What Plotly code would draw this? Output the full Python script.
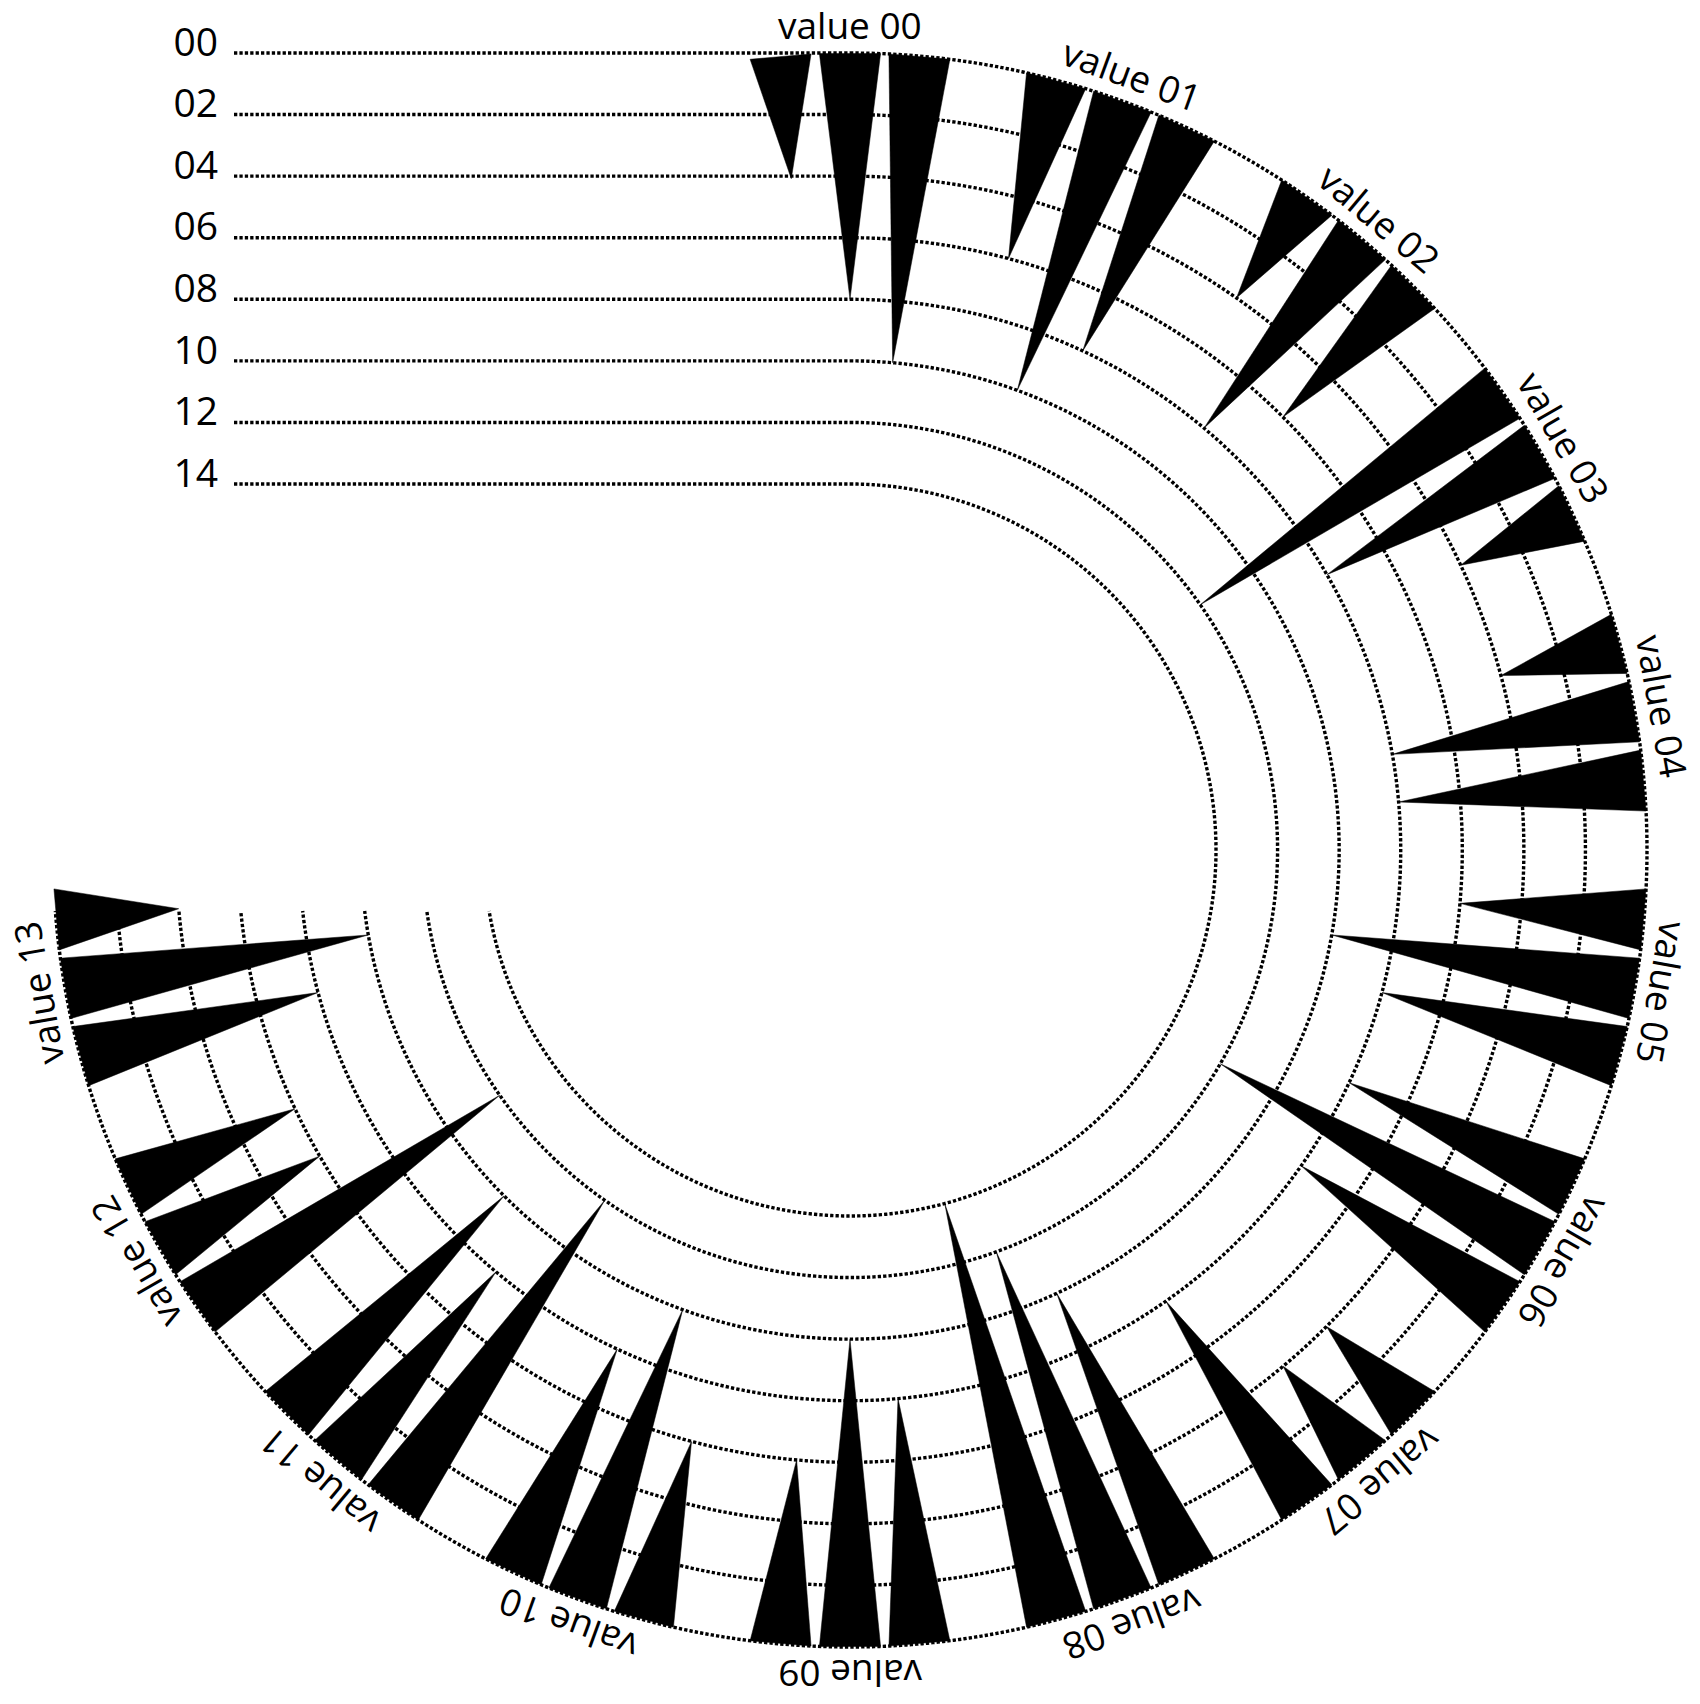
import numpy as np
import plotly.graph_objects as go

# ---------------- data ----------------
categories = ["value 00", "value 01", "value 02", "value 03", "value 04",
              "value 05", "value 06", "value 07", "value 08", "value 09",
              "value 10", "value 11", "value 12", "value 13"]
first_spike = [4, 6, 4, 12, 4, 6, 8, 4, 10, 8, 6, 12, 12, 8]
second_spike = [8, 10, 8, 8, 8, 10, 12, 4, 12, 10, 10, 8, 6, 10]
third_spike = [10, 8, 6, 4, 8, 8, 8, 8, 14, 6, 8, 10, 6, 4]
radial_ticks = [0, 2, 4, 6, 8, 10, 12, 14]
radial_ticktext = ["00", "02", "04", "06", "08", "10", "12", "14"]

# ---------------- layout constants ----------------
W, H = 1700, 1704
CX, CY = 850, 850          # circle centre (px from top-left)
R_OUT, R_IN = 797, 366     # radius of value 0 / value 14 (px)
R_MAX = 14
RPAD = 0.2                 # radial padding so edge guides are not clipped
GROUP_STEP = 20            # degrees between categories
OFFSETS = [-5, 0, 5]       # spike offsets inside a group
SPIKE_W = 4.4              # spike base width (deg)
ARC_CUT = 61               # arcs stop this many px below centre on the left
LABEL_R = 825              # radius of category labels (px)
LINE_X0 = 234              # start of the horizontal guide lines (px)
FONT = "Open Sans"
DOT = dict(color="black", width=3.4, dash="3.3px,2.1px")

unit = (R_OUT - R_IN) / R_MAX
R_POLAR = R_OUT + RPAD * unit
R_HOLE = R_IN - RPAD * unit

fig = go.Figure()

# dotted circular guides (partial arcs)
for v in radial_ticks:
    rpx = R_OUT - unit * v
    t_end = 270 - np.degrees(np.arcsin(ARC_CUT / rpx))
    th = np.linspace(0, t_end, 700)
    fig.add_trace(go.Scatterpolar(
        r=[v] * len(th), theta=th, mode="lines", line=DOT, cliponaxis=False,
        hoverinfo="skip", showlegend=False, subplot="polar"))

# horizontal guide lines on a cartesian overlay (y = radial value)
hx, hy = [], []
for v in radial_ticks:
    hx += [0, 1, None]
    hy += [v, v, None]
fig.add_trace(go.Scatter(
    x=hx, y=hy, mode="lines", xaxis="x", yaxis="y", line=DOT,
    hoverinfo="skip", showlegend=False))

# spikes
series = [first_spike, second_spike, third_spike]
for i, cat in enumerate(categories):
    for j, vals in enumerate(series):
        tc = GROUP_STEP * i + OFFSETS[j]
        v = vals[i]
        fig.add_trace(go.Scatterpolar(
            r=[0, v, 0, 0],
            theta=[tc - SPIKE_W / 2, tc, tc + SPIKE_W / 2, tc - SPIKE_W / 2],
            mode="lines", fill="toself", fillcolor="black",
            line=dict(color="black", width=0.5), cliponaxis=False,
            name=cat, showlegend=False, subplot="polar"))

# category labels, rotated tangentially
annotations = []
for i, cat in enumerate(categories):
    th = GROUP_STEP * i
    rad = np.radians(th)
    ang = ((th + 180) % 360) - 180
    annotations.append(dict(
        text=cat, xref="paper", yref="paper",
        x=(CX + LABEL_R * np.sin(rad)) / W,
        y=(H - CY + LABEL_R * np.cos(rad)) / H,
        xanchor="center", yanchor="middle", textangle=ang, borderpad=0,
        showarrow=False, font=dict(family=FONT, size=37, color="black")))

top_px = CY - R_OUT - 0.5 * unit
bot_px = CY - R_IN + 0.5 * unit

fig.update_layout(
    width=W, height=H,
    margin=dict(l=0, r=0, t=0, b=0, autoexpand=False),
    paper_bgcolor="white", plot_bgcolor="rgba(0,0,0,0)",
    showlegend=False,
    annotations=annotations,
    polar=dict(
        domain=dict(x=[(CX - R_POLAR) / W, (CX + R_POLAR) / W],
                    y=[(H - CY - R_POLAR) / H, (H - CY + R_POLAR) / H]),
        hole=R_HOLE / R_POLAR,
        bgcolor="rgba(0,0,0,0)",
        radialaxis=dict(range=[R_MAX + RPAD, -RPAD], visible=False,
                        showgrid=False),
        angularaxis=dict(rotation=90, direction="clockwise", visible=False,
                         showgrid=False),
    ),
    xaxis=dict(domain=[LINE_X0 / W, CX / W], range=[0, 1], visible=False,
               fixedrange=True),
    yaxis=dict(domain=[(H - bot_px) / H, (H - top_px) / H],
               range=[R_MAX + 0.5, -0.5], tickvals=radial_ticks,
               ticktext=radial_ticktext, showgrid=False, zeroline=False,
               showline=False, ticks="", ticklabelstandoff=15,
               ticklabelshift=11, automargin=False,
               tickfont=dict(family=FONT, size=39, color="black"),
               fixedrange=True),
)

fig.write_html("out.html")
